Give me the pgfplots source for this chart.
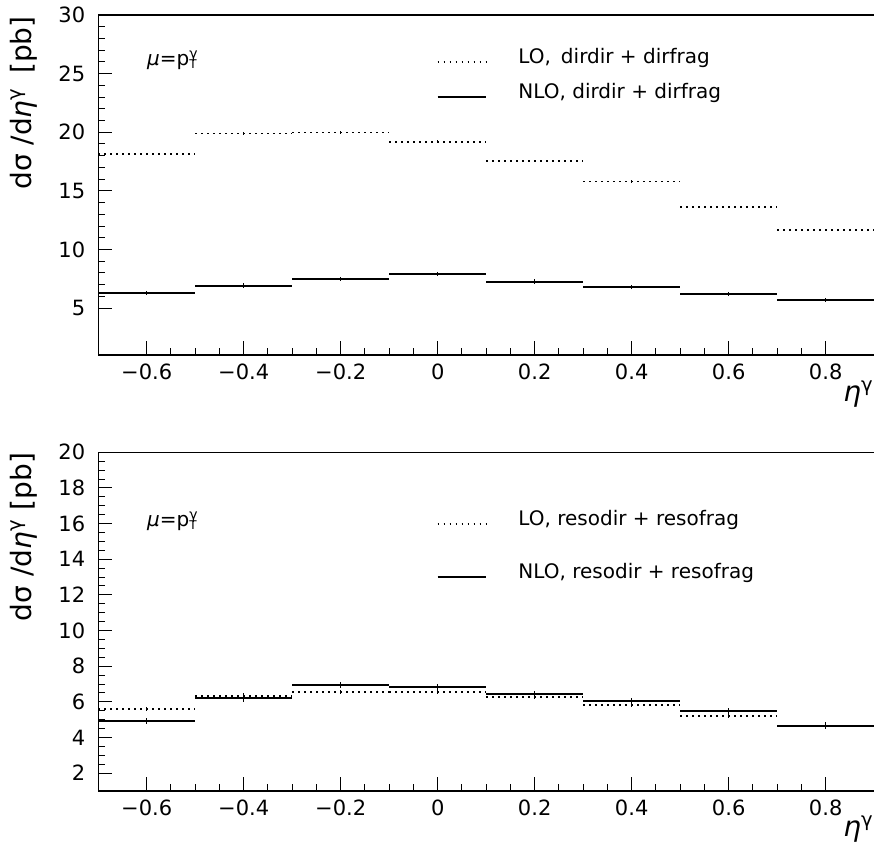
\documentclass[border=0pt]{standalone}
\usepackage{pgfplots}
\pgfplotsset{compat=1.18}
\usepackage{fontspec}
\setmainfont{DejaVu Sans}

\pgfplotsset{
  myaxis/.style={
    scale only axis, width=388pt, anchor=south west,
    xmin=-0.7, xmax=0.9,
    axis y line*=left, axis x line*=box,
    axis line style={-, line width=0.7pt},
    xtick pos=left, ytick pos=left,
    tick align=inside,
    major tick length=7pt, minor tick length=3.5pt,
    tick style={black, line width=0.5pt},
    xtick={-0.6,-0.4,-0.2,0,0.2,0.4,0.6,0.8},
    xticklabels={−0.6,−0.4,−0.2,0,0.2,0.4,0.6,0.8},
    minor x tick num=3,
    tick label style={font=\fontsize{10.5}{12}\selectfont},
    /pgf/number format/assume math mode=true,
    yticklabel style={xshift=-3pt},
    xticklabel style={yshift=-1pt},
  },
  lo/.style={black, line width=0.9pt, dash pattern=on 0.9pt off 2.1pt},
  nlo/.style={black, line width=1pt},
  errs/.style={only marks, mark size=0pt, mark options={draw=none, fill=none}, black,
    error bars/.cd, y dir=both, y fixed=#1, error mark=none,
    error bar style={draw=black, solid, line width=0.7pt}},
}

\begin{document}
\begin{tikzpicture}
\useasboundingbox (0,0) rectangle (437pt,428.5pt);

% ---------- top panel ----------
\begin{axis}[myaxis, at={(49.1pt,251pt)}, height=170pt,
  ymin=1, ymax=30, ytick={5,10,15,20,25,30}, minor y tick num=4]
\addplot[lo, jump mark left] coordinates {
  (-0.7,18.15) (-0.5,19.90) (-0.3,19.97) (-0.1,19.18)
  (0.1,17.55) (0.3,15.80) (0.5,13.63) (0.7,11.66) (0.9,11.66)};
\addplot[nlo, jump mark left] coordinates {
  (-0.7,6.32) (-0.5,6.92) (-0.3,7.50) (-0.1,7.90)
  (0.1,7.26) (0.3,6.77) (0.5,6.20) (0.7,5.68) (0.9,5.68)};
\addplot[errs=0.12] coordinates {
  (-0.6,18.15) (-0.4,19.90) (-0.2,19.97) (0,19.18)
  (0.2,17.55) (0.4,15.80) (0.6,13.63) (0.8,11.66)};
\addplot[errs=0.18] coordinates {
  (-0.6,6.32) (-0.4,6.92) (-0.2,7.50) (0,7.90)
  (0.2,7.26) (0.4,6.77) (0.6,6.20) (0.8,5.68)};
% legend samples
\addplot[lo] coordinates {(0,26) (0.1,26)};
\addplot[nlo] coordinates {(0,23) (0.1,23)};
\node[anchor=base west, font=\fontsize{10}{12}\selectfont] at (axis cs:0.152,25.83) {LO,\enspace dirdir + dirfrag};
\node[anchor=base west, font=\fontsize{10}{12}\selectfont] at (axis cs:0.152,22.88) {NLO, dirdir + dirfrag};
\node[anchor=base west, font=\fontsize{10}{12}\selectfont, inner sep=0pt] at (axis cs:-0.6,25.67) {\textit{μ}=p\rlap{\textsubscript{\fontsize{6}{6}\selectfont T}}\textsuperscript{\fontsize{7}{7}\selectfont γ}};
\end{axis}

% ---------- bottom panel ----------
\begin{axis}[myaxis, at={(49.1pt,33pt)}, height=169.35pt,
  ymin=1, ymax=20, ytick={2,4,6,8,10,12,14,16,18,20}, minor y tick num=3]
\addplot[lo, jump mark left] coordinates {
  (-0.7,5.59) (-0.5,6.35) (-0.3,6.57) (-0.1,6.56)
  (0.1,6.26) (0.3,5.81) (0.5,5.21) (0.7,4.63) (0.9,4.63)};
\addplot[nlo, jump mark left] coordinates {
  (-0.7,4.93) (-0.5,6.20) (-0.3,6.95) (-0.1,6.85)
  (0.1,6.44) (0.3,6.05) (0.5,5.49) (0.7,4.67) (0.9,4.67)};
\addplot[errs=0.12] coordinates {
  (-0.6,5.59) (-0.4,6.35) (-0.2,6.57) (0,6.56)
  (0.2,6.26) (0.4,5.81) (0.6,5.21) (0.8,4.63)};
\addplot[errs=0.18] coordinates {
  (-0.6,4.93) (-0.4,6.20) (-0.2,6.95) (0,6.85)
  (0.2,6.44) (0.4,6.05) (0.6,5.49) (0.8,4.67)};
% legend samples
\addplot[lo] coordinates {(0,16) (0.1,16)};
\addplot[nlo] coordinates {(0,13) (0.1,13)};
\node[anchor=base west, font=\fontsize{10}{12}\selectfont] at (axis cs:0.152,15.92) {LO, resodir + resofrag};
\node[anchor=base west, font=\fontsize{10}{12}\selectfont] at (axis cs:0.152,12.90) {NLO, resodir + resofrag};
\node[anchor=base west, font=\fontsize{10}{12}\selectfont, inner sep=0pt] at (axis cs:-0.6,15.83) {\textit{μ}=p\rlap{\textsubscript{\fontsize{6}{6}\selectfont T}}\textsuperscript{\fontsize{7}{7}\selectfont γ}};
\end{axis}

% axis titles
\node[rotate=90, font=\fontsize{14}{16}\selectfont] at (12pt,377pt) {dσ /d\textit{η}\textsuperscript{γ}\enspace[pb]};
\node[rotate=90, font=\fontsize{14}{16}\selectfont] at (12pt,160pt) {dσ /d\textit{η}\textsuperscript{γ} [pb]};
\node[anchor=base west, font=\fontsize{14}{16}\selectfont, inner sep=0pt] at (421.5pt,227.5pt) {\textit{η}\textsuperscript{γ}};
\node[anchor=base west, font=\fontsize{14}{16}\selectfont, inner sep=0pt] at (421.5pt,10pt) {\textit{η}\textsuperscript{γ}};
\end{tikzpicture}
\end{document}
